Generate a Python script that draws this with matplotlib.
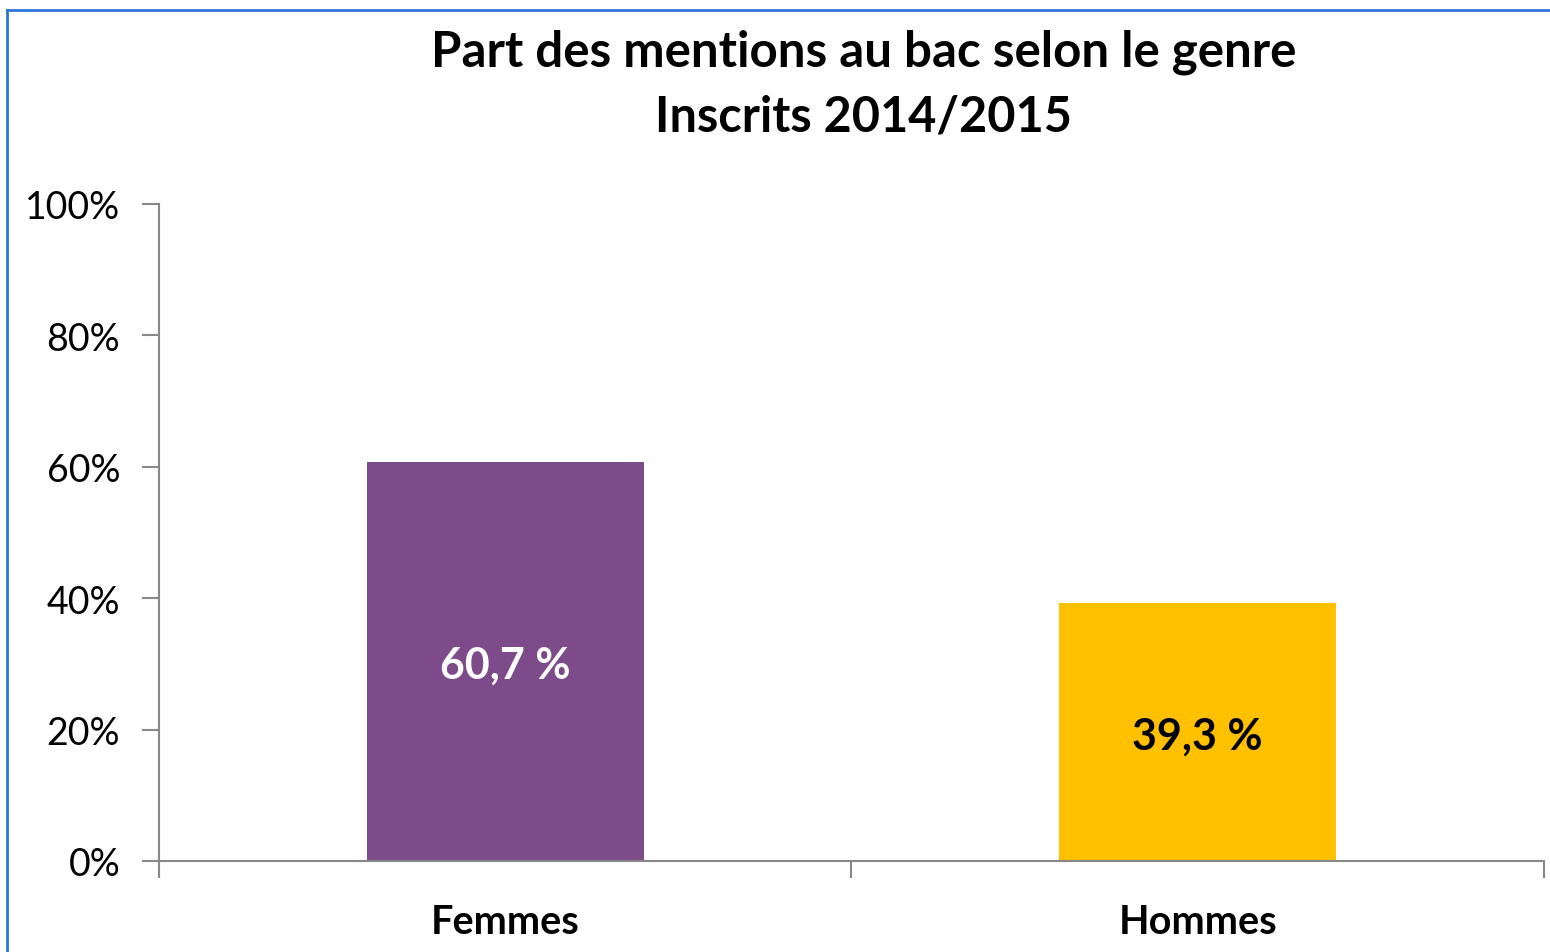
import matplotlib.pyplot as plt
from matplotlib.lines import Line2D

categories = ['Femmes', 'Hommes']
values = [60.7, 39.3]
labels = ['60,7 %', '39,3 %']
colors = ['#7D4B8A', '#FFC000']
label_colors = ['white', 'black']
yticks = [0, 20, 40, 60, 80, 100]

plt.rcParams['font.family'] = ['Lato', 'DejaVu Sans']

fig = plt.figure(figsize=(15.5, 9.53), dpi=100)
ax = fig.add_axes([0.1026, 0.0955, 0.8935, 0.6894])

x = range(len(categories))
bars = ax.bar(x, values, width=0.4, color=colors)
for b, lab, c in zip(bars, labels, label_colors):
    ax.text(b.get_x() + b.get_width() / 2, b.get_height() / 2 - 0.5, lab,
            ha='center', va='center', fontsize=31, fontweight='bold', color=c)

ax.set_xlim(-0.5, 1.5)
ax.set_ylim(0, 100)
ax.set_yticks(yticks)
ax.set_yticklabels([f'{t}%' for t in yticks], fontsize=27)
ax.set_xticks(list(x))
ax.set_xticklabels(categories, fontsize=28.5, fontweight='bold')
ax.tick_params(axis='x', length=0, pad=30)
ax.tick_params(axis='y', length=12, width=1.5, color='#888888', pad=16)

# category boundary ticks on the x axis
ax.set_xticks([-0.5, 0.5, 1.5], minor=True)
ax.tick_params(axis='x', which='minor', length=12, width=1.5, color='#888888')

for s in ['top', 'right']:
    ax.spines[s].set_visible(False)
for s in ['left', 'bottom']:
    ax.spines[s].set_color('#888888')
    ax.spines[s].set_linewidth(1.5)

fig.text(0.557, 0.945, 'Part des mentions au bac selon le genre',
         ha='center', va='center', fontsize=35.5, fontweight='bold')
fig.text(0.557, 0.877, 'Inscrits 2014/2015',
         ha='center', va='center', fontsize=35, fontweight='bold')

# chart border (top and left visible)
fig.add_artist(Line2D([0.0045, 0.0045], [0, 0.9885], color='#2E75D6', lw=2,
                      transform=fig.transFigure))
fig.add_artist(Line2D([0.0045, 1.0], [0.9885, 0.9885], color='#2E75D6', lw=2,
                      transform=fig.transFigure))

fig.savefig('out.png', dpi=100)
